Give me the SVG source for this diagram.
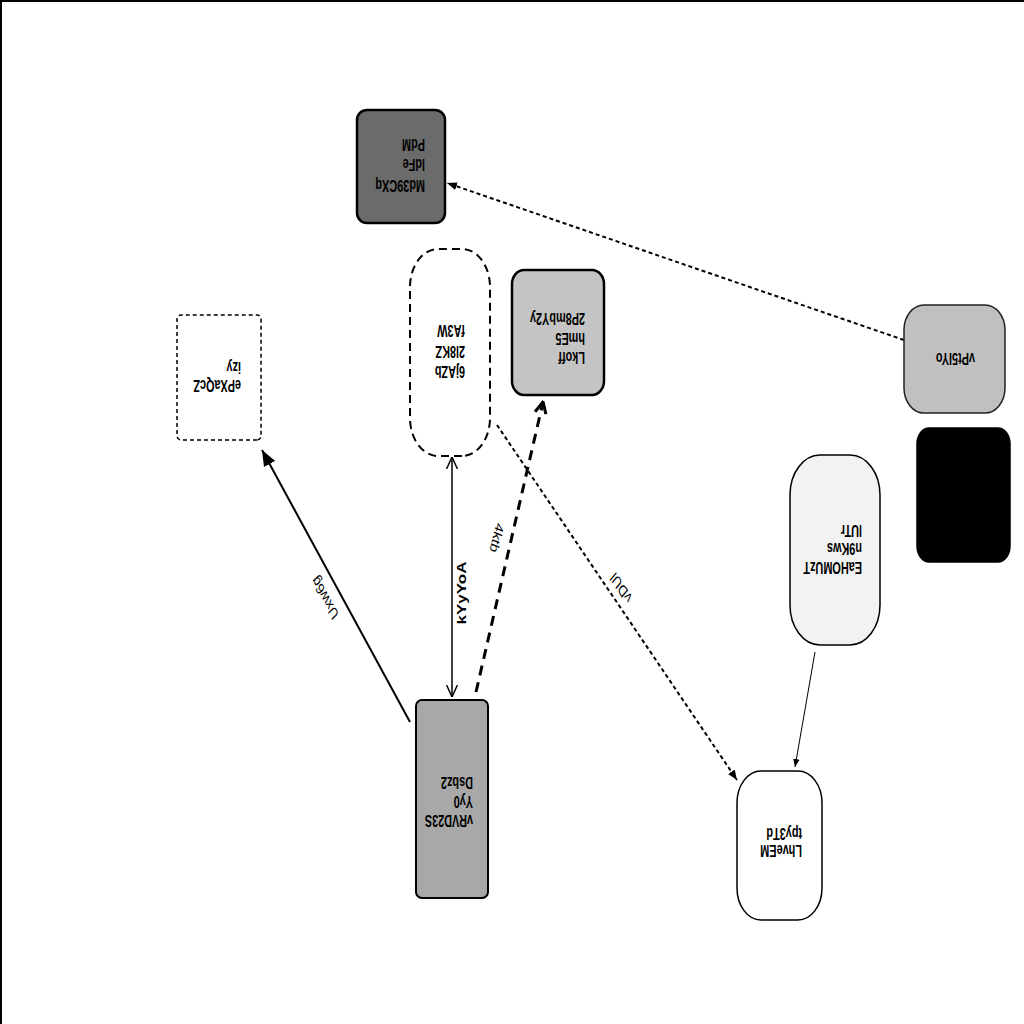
<svg xmlns="http://www.w3.org/2000/svg" width="1024" height="1024" viewBox="0 0 1024 1024">
<style>
.t{font-family:"Liberation Sans",Arial,sans-serif;font-weight:bold;font-size:16px;fill:#000;dominant-baseline:central}
.e{font-family:"Liberation Sans",Arial,sans-serif;font-size:16px;fill:#000;dominant-baseline:central;text-anchor:middle}
.eb{font-weight:bold;font-size:17px}
.edge{fill:none;stroke:#000}
</style>
<defs>
<marker id="ahS" viewBox="0 0 10 10" refX="10" refY="5" markerUnits="userSpaceOnUse" markerWidth="10" markerHeight="10" orient="auto"><path d="M0,1 L10,5 L0,9 z" fill="#000"/></marker>
<marker id="ahT" viewBox="0 0 10 10" refX="10" refY="5" markerUnits="userSpaceOnUse" markerWidth="8" markerHeight="8" orient="auto"><path d="M0,1 L10,5 L0,9 z" fill="#000"/></marker>
<marker id="ahB" viewBox="0 0 10 10" refX="10" refY="5" markerUnits="userSpaceOnUse" markerWidth="16" markerHeight="16" orient="auto"><path d="M0,1 L10,5 L0,9 z" fill="#000"/></marker>
<marker id="ahD" viewBox="0 0 10 10" refX="9" refY="5" markerUnits="userSpaceOnUse" markerWidth="14" markerHeight="14" orient="auto"><path d="M1,1 L9,5 L1,9" fill="none" stroke="#000" stroke-width="2.2"/></marker>
<marker id="ahO" viewBox="0 0 10 10" refX="10" refY="5" markerUnits="userSpaceOnUse" markerWidth="12" markerHeight="12" orient="auto-start-reverse"><path d="M0,0.5 L10,5 L0,9.5" fill="none" stroke="#000" stroke-width="1.2"/></marker>
</defs>
<rect width="1024" height="1024" fill="#fff"/>
<g id="frame" stroke="#000" stroke-width="2">
<line x1="0" y1="1" x2="1024" y2="1"/>
<line x1="1" y1="0" x2="1" y2="1024"/>
</g>
<g transform="rotate(180 512 512)">
<g id="edges">
<line class="edge" x1="120" y1="684" x2="577" y2="841" stroke-width="2" stroke-dasharray="4,3" marker-end="url(#ahS)"/>
<line class="edge" x1="209" y1="372" x2="229" y2="257" stroke-width="1" marker-end="url(#ahT)"/>
<line class="edge" x1="527" y1="599" x2="287" y2="244" stroke-width="2" stroke-dasharray="4,3" marker-end="url(#ahS)"/>
<line class="edge" x1="548" y1="332" x2="481" y2="622" stroke-width="3" stroke-dasharray="10,7" marker-end="url(#ahD)"/>
<line class="edge" x1="572" y1="327" x2="572" y2="567" stroke-width="1.5" marker-start="url(#ahO)" marker-end="url(#ahO)"/>
<line class="edge" x1="614" y1="302" x2="762" y2="574" stroke-width="2" marker-end="url(#ahB)"/>
<text class="e" transform="translate(403,436) scale(0.75,1) rotate(48)">vDUl</text>
<text class="e" transform="translate(527,486) scale(0.75,1) rotate(-73)">4ktb</text>
<text class="e eb" transform="translate(563,431) scale(0.75,1) rotate(90)">kYyYoA</text>
<text class="e" transform="translate(699,426) scale(0.75,1) rotate(54)">Uxw6g</text>
</g>
<g id="n-Md39CXq">
<rect x="579" y="801" width="88" height="113" rx="10" fill="#6b6b6b" stroke="#000" stroke-width="2.5"/>
<text class="t" transform="translate(599,839) scale(0.68,1)">Md39CXq</text>
<text class="t" transform="translate(599,860) scale(0.68,1)">ldFe</text>
<text class="t" transform="translate(599,880) scale(0.68,1)">PdM</text>
</g>
<g id="n-6jAZb">
<rect x="534" y="568" width="80" height="207" rx="28" ry="38" fill="#fff" stroke="#000" stroke-width="2" stroke-dasharray="8,5"/>
<text class="t" transform="translate(559,653) scale(0.68,1)">6jAZb</text>
<text class="t" transform="translate(559,673) scale(0.68,1)">2l8KZ</text>
<text class="t" transform="translate(559,694) scale(0.68,1)">fA3W</text>
</g>
<g id="n-Lkoff">
<rect x="420" y="629" width="92" height="125" rx="12" ry="14" fill="#c4c4c4" stroke="#000" stroke-width="2.5"/>
<text class="t" transform="translate(439,667) scale(0.68,1)">Lkoff</text>
<text class="t" transform="translate(439,686) scale(0.68,1)">hmE5</text>
<text class="t" transform="translate(439,706) scale(0.68,1)">2P8mbY2y</text>
</g>
<g id="n-ePXaQcZ">
<rect x="763" y="584" width="84" height="125" rx="4" fill="#fff" stroke="#000" stroke-width="1.5" stroke-dasharray="4,3"/>
<text class="t" transform="translate(783,639) scale(0.68,1)">ePXaQcZ</text>
<text class="t" transform="translate(783,657) scale(0.68,1)">izy</text>
</g>
<g id="n-vPt5IYo">
<rect x="19" y="611" width="101" height="108" rx="20" ry="25" fill="#c0c0c0" stroke="#222" stroke-width="1.5"/>
<text class="t" transform="translate(49,666) scale(0.68,1)">vPt5IYo</text>
</g>
<g id="n-black">
<rect x="14" y="462" width="93" height="134" rx="12" ry="16" fill="#000" stroke="#000" stroke-width="1.5"/>
</g>
<g id="n-EaHOMUzT">
<rect x="144" y="379" width="90" height="190" rx="30" ry="40" fill="#f2f2f2" stroke="#000" stroke-width="1.5"/>
<text class="t" transform="translate(162,457) scale(0.68,1)">EaHOMUzT</text>
<text class="t" transform="translate(162,476) scale(0.68,1)">n9Kws</text>
<text class="t" transform="translate(162,494) scale(0.68,1)">lUTr</text>
</g>
<g id="n-LhveEM">
<rect x="202" y="104" width="85" height="149" rx="24" ry="32" fill="#fff" stroke="#000" stroke-width="1.5"/>
<text class="t" transform="translate(222,174) scale(0.68,1)">LhveEM</text>
<text class="t" transform="translate(222,191) scale(0.68,1)">tpy3Td</text>
</g>
<g id="n-vRVD23S">
<rect x="536" y="126" width="72" height="198" rx="6" fill="#a8a8a8" stroke="#000" stroke-width="2"/>
<text class="t" transform="translate(551,204) scale(0.68,1)">vRVD23S</text>
<text class="t" transform="translate(551,223) scale(0.68,1)">Yy0</text>
<text class="t" transform="translate(551,242) scale(0.68,1)">Dsbz2</text>
</g>
</g>
</svg>
